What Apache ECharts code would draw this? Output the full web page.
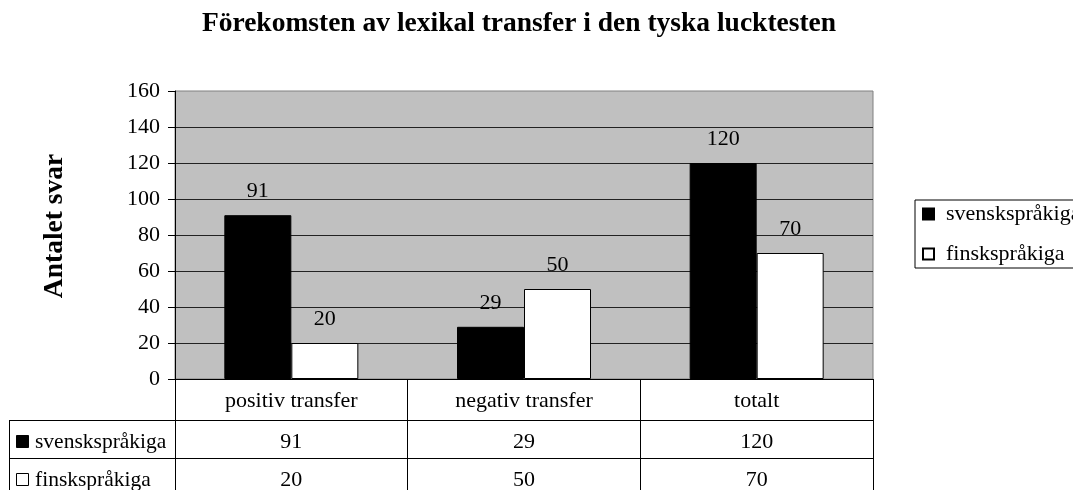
<!DOCTYPE html>
<html><head><meta charset="utf-8">
<script src="https://cdn.jsdelivr.net/npm/echarts@6/dist/echarts.min.js"></script>
<style>html,body{margin:0;padding:0;background:#fff;}#c{width:1073px;height:490px;}</style>
</head><body><div id="c"></div>
<script>
const titleText = 'Förekomsten av lexikal transfer i den tyska lucktesten';
const yAxisName = 'Antalet svar';
const categories = ['positiv transfer', 'negativ transfer', 'totalt'];
const seriesNames = ['svenskspråkiga', 'finskspråkiga'];
const svensk = [91, 29, 120];
const finsk = [20, 50, 70];
const yMin = 0, yMax = 160, yStep = 20;

const FONT = 'Liberation Serif';
const FS = 22;
const chart = echarts.init(document.getElementById('c'), null, {renderer: 'canvas'});

const gridLeft = 175, gridTop = 91, gridRight = 200, gridBottom = 111;

chart.setOption({
  animation: false,
  backgroundColor: '#fff',
  textStyle: {fontFamily: FONT, color: '#000'},
  title: {
    text: titleText, left: 514, top: 5, textAlign: 'center',
    textStyle: {fontFamily: FONT, fontWeight: 'bold', fontSize: 27.5, color: '#000'}
  },
  legend: {
    orient: 'vertical', left: 915, top: 200,
    itemWidth: 11, itemHeight: 11, itemGap: 18,
    padding: [3, 10, 3, 7],
    borderColor: '#000', borderWidth: 1,
    icon: 'rect',
    data: seriesNames,
    textStyle: {fontFamily: FONT, fontSize: FS, color: '#000', padding: [0, 0, 0, 7]}
  },
  grid: {
    left: gridLeft, top: gridTop, right: gridRight, bottom: gridBottom,
    show: true, backgroundColor: '#C0C0C0', borderColor: '#808080', borderWidth: 1
  },
  xAxis: {
    type: 'category', data: categories,
    axisLine: {lineStyle: {color: '#000', width: 1}},
    axisTick: {show: true, alignWithLabel: false, interval: 0, length: 120, lineStyle: {color: '#000'}},
    axisLabel: {interval: 0, margin: 11, fontFamily: FONT, fontSize: FS, color: '#000'},
    splitLine: {show: false}
  },
  yAxis: {
    type: 'value', min: yMin, max: yMax, interval: yStep,
    name: yAxisName, nameLocation: 'middle', nameRotate: 90, nameGap: 106,
    nameTextStyle: {fontFamily: FONT, fontWeight: 'bold', fontSize: 27.5, color: '#000', padding: [0, 0, 0, 18]},
    axisLine: {show: true, lineStyle: {color: '#000', width: 1}},
    axisTick: {show: true, length: 7, lineStyle: {color: '#000'}},
    axisLabel: {margin: 15, fontFamily: FONT, fontSize: FS, color: '#000'},
    splitLine: {show: true, showMaxLine: false, lineStyle: {color: '#222', width: 1}}
  },
  series: [
    {
      name: seriesNames[0], type: 'bar', data: svensk, barWidth: 67, barGap: '0%',
      itemStyle: {color: '#000', borderColor: '#000', borderWidth: 1},
      label: {show: true, position: 'top', distance: 13, fontFamily: FONT, fontSize: FS, color: '#000'}
    },
    {
      name: seriesNames[1], type: 'bar', data: finsk, barWidth: 67, barGap: '0%',
      itemStyle: {color: '#fff', borderColor: '#000', borderWidth: 1},
      label: {show: true, position: 'top', distance: 13, fontFamily: FONT, fontSize: FS, color: '#000'}
    }
  ]
});

// Data table below the plot, positioned from the axis scale
const W = chart.getWidth(), H = chart.getHeight();
const axisY = H - gridBottom;
const row1Top = axisY + 41, row2Top = row1Top + 38, row3Bottom = row2Top + 38;
const rightX = W - gridRight;
const tableLeft = 9;
const g = [];
const lineStyle = {stroke: '#000', lineWidth: 1};
[row1Top, row2Top].forEach(y => {
  g.push({type: 'line', shape: {x1: tableLeft, y1: y + 0.5, x2: rightX, y2: y + 0.5}, style: lineStyle, silent: true});
});
g.push({type: 'line', shape: {x1: tableLeft + 0.5, y1: row1Top, x2: tableLeft + 0.5, y2: row3Bottom}, style: lineStyle, silent: true});
const rows = [
  {name: seriesNames[0], values: svensk, fill: '#000', top: row1Top},
  {name: seriesNames[1], values: finsk, fill: '#fff', top: row2Top}
];
rows.forEach(r => {
  const cy = r.top + 22;
  g.push({type: 'rect', shape: {x: 16.5, y: cy - 6.5, width: 12, height: 12}, style: {fill: r.fill, stroke: '#000', lineWidth: 1}, silent: true});
  g.push({type: 'text', x: 35, y: cy, style: {text: r.name, fontFamily: FONT, fontSize: 21.5, fill: '#000', verticalAlign: 'middle', align: 'left'}, silent: true});
  r.values.forEach((v, i) => {
    const cx = chart.convertToPixel({xAxisIndex: 0}, categories[i]);
    g.push({type: 'text', x: cx, y: cy, style: {text: String(v), fontFamily: FONT, fontSize: FS, fill: '#000', verticalAlign: 'middle', align: 'center'}, silent: true});
  });
});
chart.setOption({graphic: g});
</script>
</body></html>
